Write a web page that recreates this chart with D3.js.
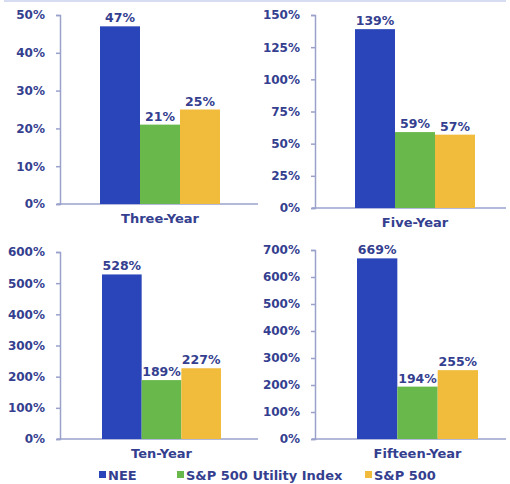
<!DOCTYPE html>
<html><head><meta charset="utf-8">
<script src="https://cdn.jsdelivr.net/npm/d3@7"></script>
<style>
body{margin:0;background:#fff;}
text{font-family:"DejaVu Sans",Verdana,sans-serif;font-weight:bold;}
</style></head>
<body><svg id="c" width="510" height="484"></svg>
<script>
const series = ["NEE", "S&P 500 Utility Index", "S&P 500"];
const colors = ["#2a45b9", "#69b84b", "#f1bb3c"];
const periods = ["Three-Year", "Five-Year", "Ten-Year", "Fifteen-Year"];
const threeYear = [47, 21, 25];
const fiveYear = [139, 59, 57];
const tenYear = [528, 189, 227];
const fifteenYear = [669, 194, 255];
const yMaxes = [50, 150, 600, 700];
const tickSteps = [10, 25, 100, 100];
const values = [threeYear, fiveYear, tenYear, fifteenYear];

const panels = [
  {ax: 60, top: 15, zero: 204, b0: 100, b1: 220, xEnd: 258},
  {ax: 315, top: 15, zero: 208, b0: 355, b1: 475, xEnd: 506},
  {ax: 60, top: 252, zero: 439, b0: 102, b1: 221, xEnd: 258},
  {ax: 315, top: 250, zero: 439, b0: 357, b1: 478, xEnd: 506}
];
const textColor = "#34408f";
const axisColor = "#9aa2cc";
const font = '"DejaVu Sans",Verdana,sans-serif';
const svg = d3.select("#c");

// faint top border
svg.append("line").attr("x1",4).attr("x2",506).attr("y1",1).attr("y2",1)
  .attr("stroke","#c9d0ec").attr("stroke-width",1.5);

periods.forEach((p, i) => {
  const P = panels[i];
  const y = d3.scaleLinear().domain([0, yMaxes[i]]).range([P.zero, P.top]);
  const x = d3.scaleBand().domain(series).range([P.b0, P.b1]).padding(0);
  const g = svg.append("g");
  const ticks = d3.range(0, yMaxes[i] + 0.001, tickSteps[i]);
  const axis = d3.axisLeft(y).tickValues(ticks).tickFormat(d => d + "%").tickSize(4).tickPadding(11);
  const ag = g.append("g").attr("transform", `translate(${P.ax},0)`).call(axis);
  ag.select(".domain").attr("stroke", axisColor).attr("stroke-width", 1.5);
  ag.selectAll(".tick line").attr("stroke", axisColor).attr("stroke-width", 1.5);
  ag.selectAll(".tick text").attr("fill", textColor).style("font-size", "12px")
    .style("font-family", font).style("font-weight", "bold");
  // x axis line
  g.append("line").attr("x1", P.ax - 3).attr("x2", P.xEnd).attr("y1", P.zero).attr("y2", P.zero)
    .attr("stroke", axisColor).attr("stroke-width", 1.5);
  // bars
  g.selectAll("rect.bar").data(values[i]).enter().append("rect")
    .attr("x", (d, j) => x(series[j])).attr("width", x.bandwidth())
    .attr("y", d => y(d)).attr("height", d => y(0) - y(d))
    .attr("fill", (d, j) => colors[j]);
  // value labels
  g.selectAll("text.val").data(values[i]).enter().append("text")
    .attr("x", (d, j) => x(series[j]) + x.bandwidth() / 2)
    .attr("y", d => y(d) - 4)
    .attr("text-anchor", "middle").attr("fill", textColor).style("font-size", "12.5px")
    .text(d => d + "%");
  // category label
  g.append("text").attr("x", (P.b0 + P.b1) / 2).attr("y", P.zero + 19)
    .attr("text-anchor", "middle").attr("fill", textColor).style("font-size", "13px").text(p);
});

// legend
const legX = [99, 177, 365];
const lg = svg.append("g");
series.forEach((s, j) => {
  lg.append("rect").attr("x", legX[j]).attr("y", 471).attr("width", 7).attr("height", 7).attr("fill", colors[j]);
  lg.append("text").attr("x", legX[j] + 9).attr("y", 479.5).attr("fill", textColor)
    .style("font-size", "13px").text(s);
});
</script></body></html>
